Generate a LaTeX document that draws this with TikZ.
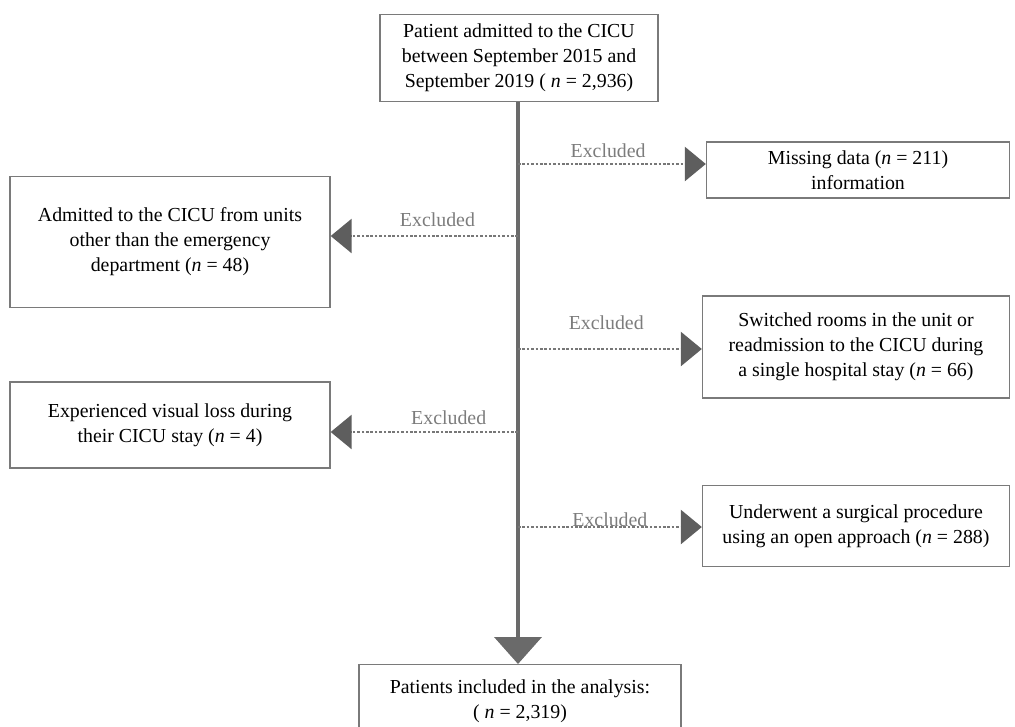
\documentclass[tikz,border=0pt]{standalone}
\usepackage{fontspec}
\setmainfont{Liberation Serif}
\usepackage{tikz}
\usetikzlibrary{arrows.meta}

\definecolor{boxgray}{HTML}{7A7A7A}
\definecolor{trunkgray}{HTML}{6A6A6A}
\definecolor{headgray}{HTML}{5E5E5E}
\definecolor{linegray}{HTML}{777777}
\definecolor{labelgray}{HTML}{7C7C7C}

\tikzset{
	box/.style={draw=boxgray, line width=0.8pt, inner sep=0pt, align=center, font=\fontsize{11.3}{14.2}\selectfont},
	trunk/.style={draw=trunkgray, line width=2.4pt, -{Triangle[length=0.54cm, width=0.94cm, color=trunkgray]}},
	excl/.style={draw=linegray, densely dotted, line width=1.5pt, -{Triangle[length=0.42cm, width=0.68cm, color=headgray]}},
	exlabel/.style={text=labelgray, inner sep=0pt, font=\fontsize{11.3}{14.2}\selectfont},
}

\begin{document}
\begin{tikzpicture}[x=0.02cm, y=-0.02cm]
		\useasboundingbox (0,0) rectangle (1015,727);
		\clip (0,0) rectangle (1015,727);
		\node[box, minimum width=5.56cm, minimum height=1.74cm] (admit) at (519,58) {Patient admitted to the CICU\\between September 2015 and\\September 2019 ( \textit{n} = 2,936)};
		\node[box, minimum width=6.06cm, minimum height=1.12cm] (missing) at (858,170) {Missing data (\textit{n} = 211)\\information};
		\node[box, minimum width=6.4cm, minimum height=2.62cm] (otherunit) at (170,242) {Admitted to the CICU from units\\other than the emergency\\department (\textit{n}\ =\ 48)};
		\node[box, minimum width=6.14cm, minimum height=2.04cm] (switched) at (856,347) {Switched rooms in the unit or\\readmission to the CICU during\\a single hospital stay (\textit{n} = 66)};
		\node[box, minimum width=6.4cm, minimum height=1.72cm] (visual) at (170,425) {Experienced visual loss during\\their CICU stay (\textit{n}\ =\ 4)};
		\node[box, minimum width=6.14cm, minimum height=1.62cm] (surgery) at (856,526) {Underwent a surgical procedure\\using an open approach (\textit{n} = 288)};
		\node[box, minimum width=6.44cm, minimum height=2cm, anchor=north] (included) at (520,664) {};
		\node[box, draw=none] (inctext) at (520,701) {Patients included in the analysis:\\( \textit{n} = 2,319)};
		\coordinate (j1) at (518,164);
		\coordinate (j2) at (518,236);
		\coordinate (j3) at (518,349);
		\coordinate (j4) at (518,432);
		\coordinate (j5) at (518,527);
		\draw[trunk] (admit.south -| j1) -- (included.north -| j1);
		\draw[excl] (j1) -- node[exlabel, pos=0.48, above=0.1cm] {Excluded} (j1 -| missing.west);
		\draw[excl] (j2) -- node[exlabel, pos=0.43, above=0.15cm] {Excluded} (j2 -| otherunit.east);
		\draw[excl] (j3) -- node[exlabel, pos=0.48, above=0.35cm] {Excluded} (j3 -| switched.west);
		\draw[excl] (j4) -- node[exlabel, pos=0.37, above=0.11cm] {Excluded} (j4 -| visual.east);
		\draw[excl] (j5) -- node[exlabel, pos=0.5, above=-0.03cm] {Excluded} (j5 -| surgery.west);
	\end{tikzpicture}
\end{document}
